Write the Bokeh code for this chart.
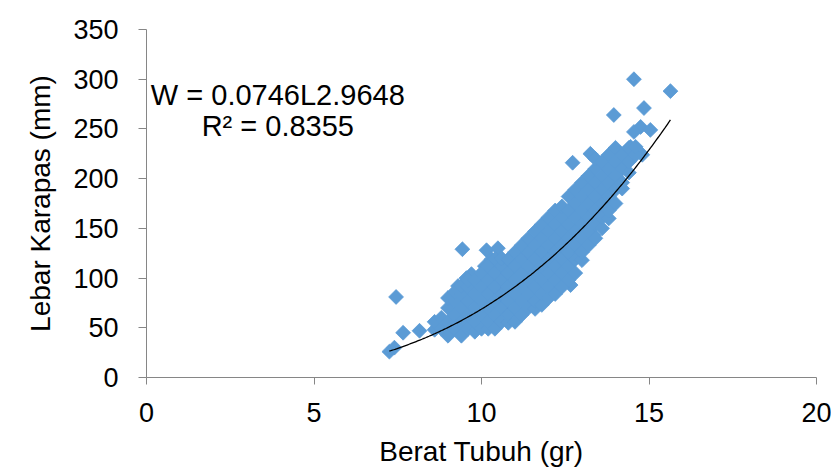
import numpy as np
from bokeh.plotting import figure
from bokeh.models import Label, FixedTicker, Range1d, Title
from bokeh.embed import file_html
from bokeh.resources import INLINE

# Berat Tubuh (gr) -- x values
berat = [
    # scattered points
    7.25, 7.40, 7.45, 7.66, 8.15, 9.43, 10.15, 10.49, 12.72, 13.25, 13.95, 14.55,
    15.64, 14.85, 14.75, 15.04, 14.55, 14.80, 12.66, 13.35, 14.45, 14.20,
    9.30, 9.70, 10.10, 10.30, 9.55,
    # dense cloud
    8.6, 8.6,
    8.8, 8.8,
    9.0, 9.0, 9.0, 9.0,
    9.2, 9.2, 9.2, 9.2,
    9.4, 9.4, 9.4, 9.4, 9.4,
    9.6, 9.6, 9.6, 9.6, 9.6,
    9.8, 9.8, 9.8, 9.8, 9.8,
    10.0, 10.0, 10.0, 10.0, 10.0,
    10.2, 10.2, 10.2, 10.2, 10.2, 10.2,
    10.4, 10.4, 10.4, 10.4, 10.4, 10.4,
    10.6, 10.6, 10.6, 10.6, 10.6, 10.6,
    10.8, 10.8, 10.8, 10.8, 10.8, 10.8,
    11.0, 11.0, 11.0, 11.0, 11.0, 11.0,
    11.2, 11.2, 11.2, 11.2, 11.2, 11.2,
    11.4, 11.4, 11.4, 11.4, 11.4, 11.4,
    11.6, 11.6, 11.6, 11.6, 11.6, 11.6, 11.6,
    11.8, 11.8, 11.8, 11.8, 11.8, 11.8, 11.8,
    12.0, 12.0, 12.0, 12.0, 12.0, 12.0, 12.0,
    12.2, 12.2, 12.2, 12.2, 12.2, 12.2, 12.2,
    12.4, 12.4, 12.4, 12.4, 12.4, 12.4, 12.4,
    12.6, 12.6, 12.6, 12.6, 12.6, 12.6, 12.6,
    12.8, 12.8, 12.8, 12.8, 12.8, 12.8, 12.8,
    13.0, 13.0, 13.0, 13.0, 13.0, 13.0, 13.0,
    13.2, 13.2, 13.2, 13.2, 13.2, 13.2,
    13.4, 13.4, 13.4, 13.4, 13.4, 13.4, 13.4,
    13.6, 13.6, 13.6, 13.6, 13.6, 13.6,
    13.8, 13.8, 13.8, 13.8, 13.8, 13.8,
    14.0, 14.0, 14.0, 14.0, 14.0,
    14.2, 14.2, 14.2,
    14.4, 14.4, 14.4,
    14.6, 14.6,
]

# Lebar Karapas (mm) -- y values
lebar = [
    # scattered points
    26, 30, 81, 45, 47, 129, 128, 130, 216, 225, 264, 300,
    288, 271, 252, 249, 247, 224, 93, 143, 232, 190,
    92, 104, 112, 119, 100,
    # dense cloud
    48, 56,
    49, 60,
    42, 56, 70, 80,
    49, 63, 77, 86,
    42, 56, 70, 84, 92,
    49, 63, 77, 91, 98,
    46, 56, 70, 84, 98,
    49, 63, 77, 91, 105,
    49, 56, 70, 84, 98, 112,
    49, 63, 77, 91, 105, 119,
    56, 70, 84, 98, 112, 120,
    55, 63, 77, 91, 105, 119,
    56, 70, 84, 98, 112, 126,
    63, 77, 91, 105, 119, 133,
    70, 84, 98, 112, 126, 140,
    69, 77, 91, 105, 119, 133, 147,
    73, 84, 98, 112, 126, 140, 154,
    80, 91, 105, 119, 133, 147, 161,
    84, 98, 112, 126, 140, 154, 168,
    91, 105, 119, 133, 147, 161, 172,
    98, 112, 126, 140, 154, 168, 182,
    105, 119, 133, 147, 161, 175, 189,
    118, 126, 140, 154, 168, 182, 196,
    133, 147, 161, 175, 189, 203,
    140, 154, 168, 182, 196, 210, 220,
    150, 161, 175, 189, 203, 217,
    160, 168, 182, 196, 210, 224,
    175, 189, 203, 217, 231,
    196, 210, 224,
    206, 217, 231,
    224, 232,
]

x_ticks = [0, 5, 10, 15, 20]
y_ticks = [0, 50, 100, 150, 200, 250, 300, 350]

koef_a = 0.0746
koef_b = 2.9648
persamaan = "W = 0.0746L2.9648"
r_kuadrat = "R\u00b2 = 0.8355"
judul_x = "Berat Tubuh (gr)"
judul_y = "Lebar Karapas (mm)"

FONT = "Liberation Sans"
BLUE = "#5B9BD5"
AXIS = "#868686"

p = figure(
    width=831, height=469,
    x_range=Range1d(0, 20), y_range=Range1d(0, 350),
    output_backend="svg", toolbar_location=None,
    min_border_left=146, min_border_right=15,
    min_border_top=29, min_border_bottom=91,
)
p.grid.visible = False
p.outline_line_color = None
p.background_fill_color = "white"
p.border_fill_color = "white"

p.scatter(berat, lebar, marker="square", angle=np.pi / 4, size=10.5,
          fill_color=BLUE, line_color=BLUE, line_width=0.8)

xs = np.linspace(min(berat), max(berat), 200)
p.line(xs, koef_a * xs ** koef_b, line_color="black", line_width=1.3)

for ax, ticks, tout in ((p.xaxis, x_ticks, 7), (p.yaxis, y_ticks, 8)):
    ax.ticker = FixedTicker(ticks=ticks)
    ax.axis_line_color = AXIS
    ax.axis_line_width = 1
    ax.major_tick_line_color = AXIS
    ax.major_tick_in = 0
    ax.major_tick_out = tout
    ax.minor_tick_line_color = None
    ax.major_label_text_font = FONT
    ax.major_label_text_font_size = "27px"
    ax.major_label_text_color = "black"
    ax.axis_label_text_font = FONT
    ax.axis_label_text_font_size = "28px"
    ax.axis_label_text_font_style = "normal"
    ax.axis_label_text_color = "black"

p.xaxis.axis_label = judul_x
p.xaxis.major_label_standoff = 18
p.yaxis.major_label_standoff = 20
p.xaxis.axis_label_standoff = 11

# y-axis title as a side-panel title so it can be shifted upward like the original
p.add_layout(Title(text=judul_y, align="center", vertical_align="top",
                   offset=13, standoff=25,
                   text_font=FONT, text_font_size="28px",
                   text_font_style="normal", text_color="black"), "left")

p.add_layout(Label(x=3.92, y=284, text=persamaan, text_align="center",
                   text_baseline="middle", text_font=FONT,
                   text_font_size="29px", text_color="black"))
p.add_layout(Label(x=3.92, y=253, text=r_kuadrat, text_align="center",
                   text_baseline="middle", text_font=FONT,
                   text_font_size="29px", text_color="black"))

open("out.html", "w").write(file_html(p, INLINE))
